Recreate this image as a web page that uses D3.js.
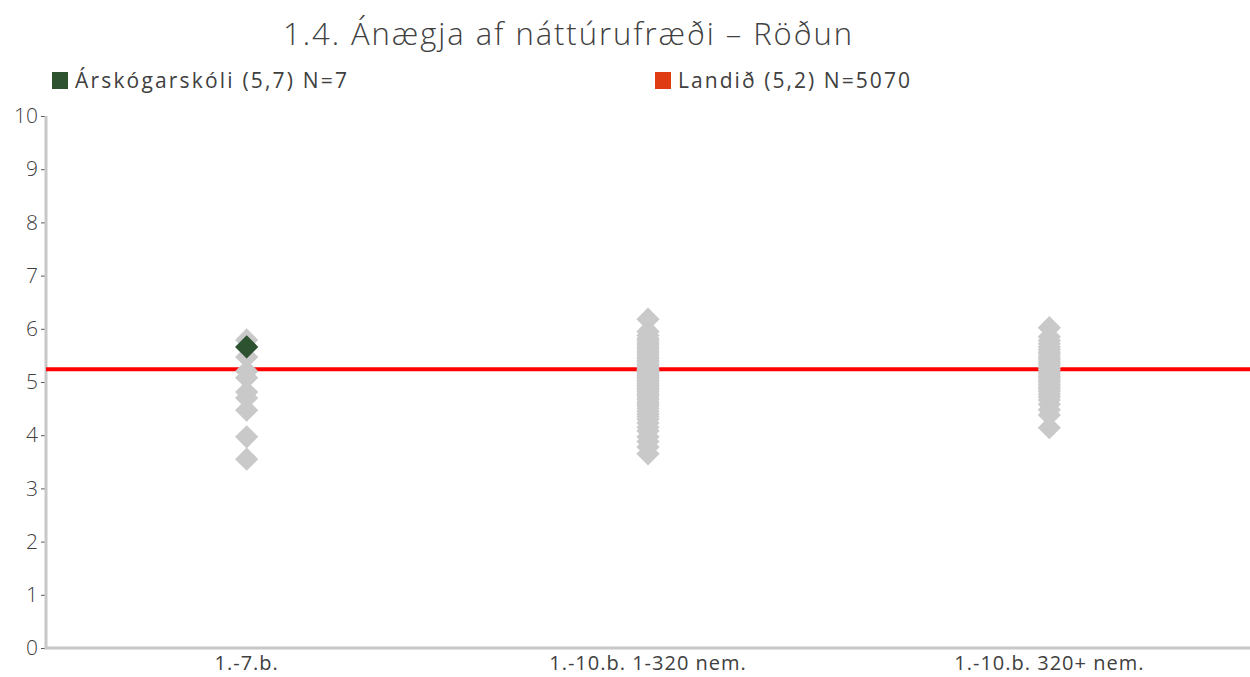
<!DOCTYPE html>
<html>
<head>
<meta charset="utf-8">
<script src="https://cdn.jsdelivr.net/npm/d3@7"></script>
<style>
  body { margin: 0; background: #fff; }
  text { font-family: "Open Sans", sans-serif; fill: #404040; }
</style>
</head>
<body>
<div id="chart"></div>
<script>
//// DATA

const CATEGORIES = ["1.-7.b.", "1.-10.b. 1-320 nem.", "1.-10.b. 320+ nem."];
const Y_TICKS = [0, 1, 2, 3, 4, 5, 6, 7, 8, 9, 10];

// other schools, one value per school
const GROUP_1 = [5.79, 5.47, 5.2, 5.08, 4.81, 4.7, 4.47, 3.97, 3.55];
const GROUP_2 = [6.18, 5.95, 5.88, 5.82, 5.78, 5.74, 5.7, 5.66, 5.62, 5.58, 5.55, 5.51, 5.47,
  5.44, 5.4, 5.37, 5.33, 5.3, 5.27, 5.24, 5.21, 5.18, 5.15, 5.12, 5.09, 5.06, 5.03, 5.0,
  4.97, 4.94, 4.91, 4.88, 4.85, 4.82, 4.78, 4.75, 4.71, 4.67, 4.63, 4.59, 4.55, 4.5, 4.45,
  4.4, 4.35, 4.3, 4.23, 4.15, 4.08, 3.97, 3.88, 3.78, 3.65];
const GROUP_3 = [6.02, 5.85, 5.78, 5.72, 5.66, 5.61, 5.56, 5.52, 5.47, 5.43, 5.39, 5.35, 5.31,
  5.27, 5.23, 5.19, 5.15, 5.11, 5.07, 5.03, 4.99, 4.95, 4.91, 4.87, 4.82, 4.77, 4.72, 4.66,
  4.58, 4.48, 4.38, 4.14];
const OTHER_SCHOOLS = [GROUP_1, GROUP_2, GROUP_3];

const SCHOOL = { name: "Árskógarskóli (5,7) N=7", category: "1.-7.b.", value: 5.66 };
const COUNTRY = { name: "Landið (5,2) N=5070", value: 5.24 };
const TITLE = "1.4. Ánægja af náttúrufræði – Röðun";

//// STYLE

const WIDTH = 1250, HEIGHT = 677;
const GREY = "#c9c9c9";
const GREEN = "#2d5230";
const RED = "#ff0000";
const RED_LEGEND = "#e03c13";
const AXIS_GREY = "#c8c8c8";

const svg = d3.select("#chart").append("svg")
  .attr("width", WIDTH)
  .attr("height", HEIGHT);

const x = d3.scaleBand().domain(CATEGORIES).range([46, 1250]);
const y = d3.scaleLinear().domain([0, 10]).range([648, 116]);

// title
svg.append("text")
  .attr("x", 283)
  .attr("y", 45)
  .attr("textLength", 569)
  .attr("lengthAdjust", "spacing")
  .style("font-size", "31px")
  .style("font-weight", 300)
  .text(TITLE);

// legend
const legend = [
  { label: SCHOOL.name, color: GREEN, x: 52, w: 272 },
  { label: COUNTRY.name, color: RED_LEGEND, x: 655, w: 232 }
];
const lg = svg.selectAll(".legend").data(legend).enter().append("g")
  .attr("class", "legend")
  .attr("transform", d => `translate(${d.x},72)`);
lg.append("rect").attr("width", 16).attr("height", 17).attr("fill", d => d.color);
lg.append("text")
  .attr("x", 23)
  .attr("y", 16)
  .attr("textLength", d => d.w)
  .attr("lengthAdjust", "spacing")
  .style("font-size", "21px")
  .text(d => d.label);

// axes
const yAxis = svg.append("g")
  .attr("transform", "translate(46,0)")
  .call(d3.axisLeft(y).tickValues(Y_TICKS).tickSize(5).tickSizeOuter(0).tickPadding(3));
yAxis.select(".domain").remove();
yAxis.selectAll(".tick line").attr("stroke", "#595959");
yAxis.selectAll(".tick text").style("font-size", "21px").style("font-weight", 300).attr("fill", "#404040");

svg.append("line")
  .attr("x1", 46).attr("x2", 46)
  .attr("y1", y(10)).attr("y2", y(0) + 1.5)
  .attr("stroke", AXIS_GREY).attr("stroke-width", 3);

const xAxis = svg.append("g")
  .attr("transform", `translate(0,${y(0)})`)
  .call(d3.axisBottom(x).tickSize(0).tickPadding(8));
xAxis.select(".domain").remove();
xAxis.selectAll(".tick text")
  .style("font-size", "20px")
  .style("letter-spacing", "1px")
  .attr("fill", "#404040");

svg.append("line")
  .attr("x1", 46).attr("x2", WIDTH)
  .attr("y1", y(0)).attr("y2", y(0))
  .attr("stroke", AXIS_GREY).attr("stroke-width", 3);

// country average line
svg.append("line")
  .attr("x1", 46).attr("x2", WIDTH)
  .attr("y1", y(COUNTRY.value)).attr("y2", y(COUNTRY.value))
  .attr("stroke", RED).attr("stroke-width", 4);

// diamonds
const diamond = d3.symbol(d3.symbolSquare, 270);
const points = [];
OTHER_SCHOOLS.forEach((vals, i) => vals.forEach(v => points.push({ cat: CATEGORIES[i], v })));

svg.append("g").selectAll("path")
  .data(points)
  .enter().append("path")
  .attr("d", diamond)
  .attr("transform", d => `translate(${x(d.cat) + x.bandwidth() / 2},${y(d.v)}) rotate(45)`)
  .attr("fill", GREY);

svg.append("path")
  .attr("d", diamond)
  .attr("transform", `translate(${x(SCHOOL.category) + x.bandwidth() / 2},${y(SCHOOL.value)}) rotate(45)`)
  .attr("fill", GREEN);
</script>
</body>
</html>
